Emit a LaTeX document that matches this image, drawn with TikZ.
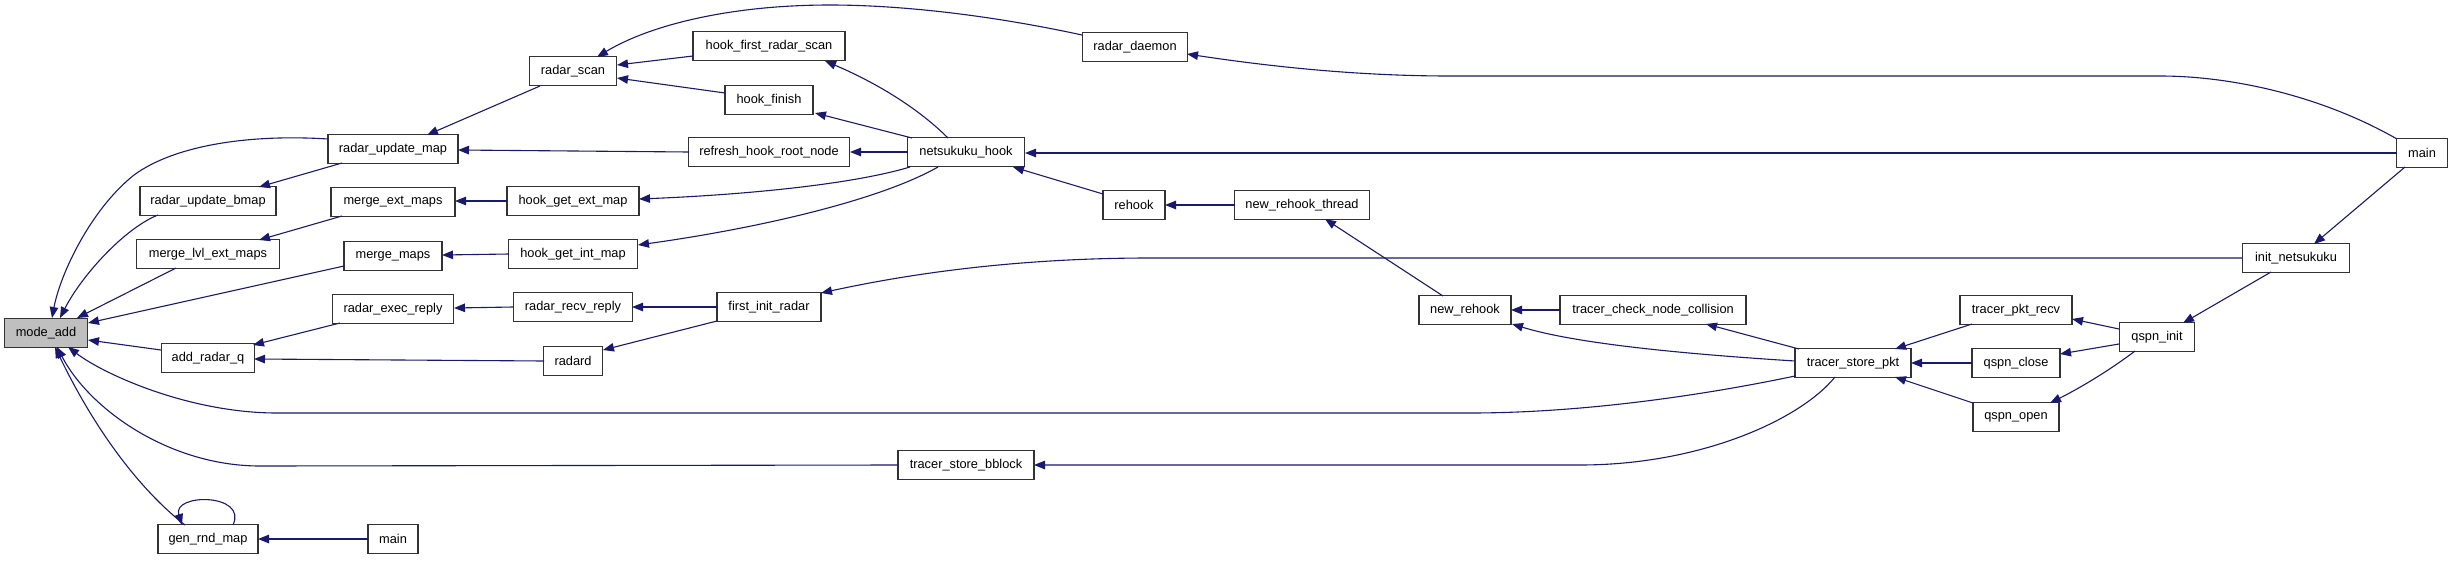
\documentclass[tikz,border=0pt]{standalone}
\usepackage{fontspec}
\setmainfont{Liberation Sans}
\usetikzlibrary{arrows.meta,calc}
\definecolor{edgecol}{HTML}{191970}
\definecolor{boxline}{HTML}{333333}
\begin{document}
\begin{tikzpicture}[x=1pt,y=-1pt,
  fn/.style={draw=boxline,line width=1.3pt,fill=white,inner xsep=0pt,inner ysep=0pt,minimum height=28.5pt,font=\fontsize{12.8}{15}\selectfont},
  cur/.style={fn,fill=black!25},
  edge/.style={draw=edgecol,line width=1.1pt,-{Triangle[length=11pt,width=8.5pt]}}]
\useasboundingbox (0,0) rectangle (2453,560);
% nodes
\node[cur,minimum width=83pt] (modeadd) at (46,333) {mode\_add};
\node[fn,minimum width=136pt] (rubmap) at (208,201) {radar\_update\_bmap};
\node[fn,minimum width=143pt] (mlem) at (208,254) {merge\_lvl\_ext\_maps};
\node[fn,minimum width=93pt] (arq) at (208,358) {add\_radar\_q};
\node[fn,minimum width=100pt] (grm) at (208,539) {gen\_rnd\_map};
\node[fn,minimum width=130pt] (rum) at (393,149) {radar\_update\_map};
\node[fn,minimum width=124pt] (mem) at (393,202) {merge\_ext\_maps};
\node[fn,minimum width=98pt] (mm) at (393,256) {merge\_maps};
\node[fn,minimum width=121pt] (rer) at (393,309) {radar\_exec\_reply};
\node[fn,minimum width=50pt] (mainb) at (393,539) {main};
\node[fn,minimum width=87pt] (rscan) at (573,71) {radar\_scan};
\node[fn,minimum width=132pt] (hgem) at (573,201) {hook\_get\_ext\_map};
\node[fn,minimum width=129pt] (hgim) at (573,254) {hook\_get\_int\_map};
\node[fn,minimum width=119pt] (rrr) at (573,307) {radar\_recv\_reply};
\node[fn,minimum width=59pt] (radard) at (573,361) {radard};
\node[fn,minimum width=152pt] (hfrs) at (769,46) {hook\_first\_radar\_scan};
\node[fn,minimum width=88pt] (hfin) at (769,100) {hook\_finish};
\node[fn,minimum width=161pt] (refresh) at (769,152) {refresh\_hook\_root\_node};
\node[fn,minimum width=104pt] (fir) at (769,307) {first\_init\_radar};
\node[fn,minimum width=117pt] (nh) at (966,152) {netsukuku\_hook};
\node[fn,minimum width=136pt] (tsbb) at (966,465) {tracer\_store\_bblock};
\node[fn,minimum width=105pt] (rdaemon) at (1135,47) {radar\_daemon};
\node[fn,minimum width=62pt] (rehook) at (1134,205) {rehook};
\node[fn,minimum width=135pt] (nrt) at (1302,205) {new\_rehook\_thread};
\node[fn,minimum width=92pt] (nrh) at (1465,310) {new\_rehook};
\node[fn,minimum width=186pt] (tcnc) at (1653,310) {tracer\_check\_node\_collision};
\node[fn,minimum width=116pt] (tsp) at (1853,363) {tracer\_store\_pkt};
\node[fn,minimum width=112pt] (tpr) at (2016,310) {tracer\_pkt\_recv};
\node[fn,minimum width=88pt] (qclose) at (2016,363) {qspn\_close};
\node[fn,minimum width=86pt] (qopen) at (2016,417) {qspn\_open};
\node[fn,minimum width=75pt] (qinit) at (2157,337) {qspn\_init};
\node[fn,minimum width=107pt] (initn) at (2296,258) {init\_netsukuku};
\node[fn,minimum width=51pt] (mainr) at (2422,153) {main};
% edges into mode_add
\draw[edge] ($(rum)+(-65,-10)$) .. controls (250,134) and (175,145) .. (134,175) .. controls (90,210) and (60,275) .. ($(modeadd)+(6,-15)$);
\draw[edge] ($(rubmap)+(-50,14)$) .. controls (125,228) and (82,275) .. ($(modeadd)+(14,-15)$);
\draw[edge] ($(mlem)+(-32,14)$) -- ($(modeadd)+(31,-15)$);
\draw[edge] ($(mm)+(-49,10)$) -- ($(modeadd)+(42,-10)$);
\draw[edge] ($(arq)+(-47,-8)$) -- ($(modeadd)+(42,7)$);
\draw[edge] ($(tsp)+(-58,13)$) .. controls (1700,396) and (1580,413) .. (1470,413) -- (277,413) .. controls (190,413) and (105,375) .. ($(modeadd)+(22,14)$);
\draw[edge] ($(tsbb)+(-68,0)$) -- (260,466) .. controls (170,466) and (90,410) .. ($(modeadd)+(11,14)$);
\draw[edge] ($(grm)+(-23,-14)$) .. controls (140,490) and (95,430) .. ($(modeadd)+(9,14)$);
% second column
\draw[edge] ($(rscan)+(-33,15)$) -- ($(rum)+(34,-14)$);
\draw[edge] ($(rum)+(-51,14)$) -- ($(rubmap)+(51,-14)$);
\draw[edge] ($(refresh)+(-80,0)$) -- ($(rum)+(65,1)$);
\draw[edge] ($(mem)+(-51,14)$) -- ($(mlem)+(51,-14)$);
\draw[edge] ($(hgem)+(-66,0)$) -- ($(mem)+(62,-1)$);
\draw[edge] ($(hgim)+(-64,0)$) -- ($(mm)+(49,-1)$);
\draw[edge] ($(rer)+(-53,14)$) -- ($(arq)+(45,-13)$);
\draw[edge] ($(radard)+(-29,0)$) -- ($(arq)+(46,1)$);
\draw[edge] ($(rrr)+(-60,0)$) -- ($(rer)+(61,-1)$);
\draw[edge] ($(mainb)+(-25,0)$) -- ($(grm)+(50,0)$);
\draw[edge] ($(grm)+(25,-14)$) .. controls (248,493) and (172,493) .. ($(grm)+(-26,-14)$);
% radar_scan callers
\draw[edge] ($(rdaemon)+(-53,-12)$) .. controls (990,15) and (900,5) .. (830,5) .. controls (730,5) and (650,25) .. ($(rscan)+(24,-14)$);
\draw[edge] ($(hfrs)+(-76,10)$) -- ($(rscan)+(44,-6)$);
\draw[edge] ($(hfin)+(-44,-7)$) -- ($(rscan)+(44,7)$);
% netsukuku_hook
\draw[edge] ($(nh)+(-18,-14)$) .. controls (915,105) and (870,80) .. ($(hfrs)+(56,15)$);
\draw[edge] ($(nh)+(-54,-14)$) -- ($(hfin)+(46,13)$);
\draw[edge] ($(nh)+(-58,0)$) -- ($(refresh)+(81,0)$);
\draw[edge] ($(nh)+(-56,15)$) .. controls (850,185) and (740,195) .. ($(hgem)+(66,-2)$);
\draw[edge] ($(nh)+(-28,15)$) .. controls (880,200) and (760,228) .. ($(hgim)+(65,-9)$);
\draw[edge] ($(rehook)+(-31,-11)$) -- ($(nh)+(47,15)$);
\draw[edge] ($(mainr)+(-25,0)$) -- ($(nh)+(59,1)$);
\draw[edge] ($(mainr)+(-25,-14)$) .. controls (2320,95) and (2230,76) .. (2160,76) -- (1450,76) .. controls (1350,76) and (1260,65) .. ($(rdaemon)+(52,7)$);
\draw[edge] ($(nrt)+(-67,0)$) -- ($(rehook)+(31,0)$);
\draw[edge] ($(nrh)+(-22,-14)$) -- ($(nrt)+(23,14)$);
% first_init_radar
\draw[edge] ($(initn)+(-54,0)$) -- (1150,258) .. controls (1000,258) and (890,278) .. ($(fir)+(52,-14)$);
\draw[edge] ($(fir)+(-52,0)$) -- ($(rrr)+(59,0)$);
\draw[edge] ($(fir)+(-52,14)$) -- ($(radard)+(30,-11)$);
% tracer side
\draw[edge] ($(tcnc)+(-93,0)$) -- ($(nrh)+(46,0)$);
\draw[edge] ($(tsp)+(-58,-2)$) .. controls (1700,355) and (1580,345) .. ($(nrh)+(47,14)$);
\draw[edge] ($(tsp)+(-54,-14)$) -- ($(tcnc)+(53,14)$);
\draw[edge] ($(tsp)+(-18,14)$) .. controls (1800,420) and (1700,465) .. (1580,465) -- ($(tsbb)+(68,0)$);
\draw[edge] ($(tpr)+(-44,14)$) -- ($(tsp)+(42,-14)$);
\draw[edge] ($(qclose)+(-44,0)$) -- ($(tsp)+(58,0)$);
\draw[edge] ($(qopen)+(-43,-14)$) -- ($(tsp)+(42,14)$);
\draw[edge] ($(qinit)+(-38,-8)$) -- ($(tpr)+(56,9)$);
\draw[edge] ($(qinit)+(-38,7)$) -- ($(qclose)+(44,-9)$);
\draw[edge] ($(qinit)+(-22,14)$) .. controls (2110,370) and (2080,388) .. ($(qopen)+(34,-14)$);
\draw[edge] ($(initn)+(-25,14)$) -- ($(qinit)+(26,-14)$);
\draw[edge] ($(mainr)+(-17,14)$) -- ($(initn)+(18,-14)$);
\end{tikzpicture}
\end{document}
